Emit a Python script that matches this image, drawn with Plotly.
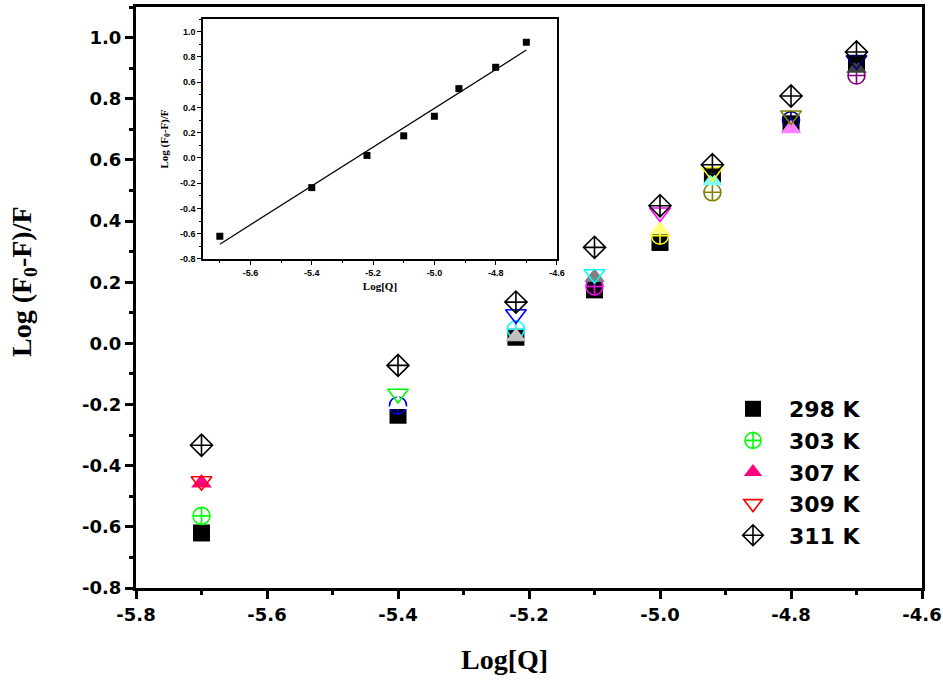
import numpy as np
import plotly.graph_objects as go

# ---- data ----
log_q = [-5.7, -5.4, -5.22, -5.1, -5.0, -4.92, -4.8, -4.7]
y_298 = [-0.62, -0.235, 0.02, 0.175, 0.33, 0.549, 0.718, 0.916]
y_303 = [-0.564, -0.203, 0.046, 0.186, 0.352, 0.494, 0.73, 0.876]
y_307 = [-0.457, -0.20, 0.022, 0.216, 0.371, 0.532, 0.702, 0.90]
y_309 = [-0.451, -0.165, 0.095, 0.226, 0.428, 0.560, 0.745, 0.926]
y_311 = [-0.333, -0.072, 0.135, 0.314, 0.450, 0.584, 0.809, 0.953]
labels = ["298 K", "303 K", "307 K", "309 K", "311 K"]

x_ticks = [-5.8, -5.6, -5.4, -5.2, -5.0, -4.8, -4.6]
x_ticks_inset = [-5.6, -5.4, -5.2, -5.0, -4.8, -4.6]
y_ticks = [-0.8, -0.6, -0.4, -0.2, 0.0, 0.2, 0.4, 0.6, 0.8, 1.0]
fmt = lambda v: f"{v:.1f}"

# Origin-style incremental colours per point
c_298 = ["#000000"] * 8
c_303 = ["#00FF00", "#0000FF", "#00FFFF", "#FF00FF", "#FFFF00", "#808000", "#000080", "#800080"]
c_307 = ["#FF0080", "#FFFFFF", "#C0C0C0", "#808080", "#FFFF80", "#80FFFF", "#FF80FF", "#404040"]
c_309 = ["#FF0000", "#00FF00", "#0000FF", "#00FFFF", "#FF00FF", "#FFFF00", "#808000", "#000080"]
c_311 = ["#000000"] * 8

fig = go.Figure()

series = [
    (y_298, c_298, "square", 17, 0),
    (y_303, c_303, "circle-cross-open", 17, 1.6),
    (y_307, c_307, "triangle-up", 18, 0),
    (y_309, c_309, "triangle-down-open", 18, 1.6),
    (y_311, c_311, "diamond-cross-open", 17, 1.6),
]
for i, (ys, cs, sym, sz, lw) in enumerate(series):
    fig.add_trace(go.Scatter(
        x=log_q, y=ys, mode="markers", name=labels[i],
        legendgroup=labels[i],
        marker=dict(symbol=sym, size=sz, color=cs, line=dict(width=lw)),
        xaxis="x", yaxis="y",
    ))

# inset: 298 K with linear fit
slope, intercept = np.polyfit(log_q, y_298, 1)
fit_x = [min(log_q), max(log_q)]
fit_y = [slope * v + intercept for v in fit_x]
fig.add_trace(go.Scatter(x=log_q, y=y_298, mode="markers", showlegend=False,
                         marker=dict(symbol="square", size=7, color="black"),
                         xaxis="x2", yaxis="y2"))
fig.add_trace(go.Scatter(x=fit_x, y=fit_y, mode="lines", showlegend=False,
                         line=dict(color="black", width=1.2),
                         xaxis="x2", yaxis="y2"))

tickfont_main = dict(family="DejaVu Sans", size=18, color="black", weight="bold")
tickfont_in = dict(family="Arial", size=9, color="black", weight="bold")
titlefont_main = dict(family="Liberation Serif", size=28, color="black", weight="bold")
titlefont_in = dict(family="Liberation Serif", size=11, color="black", weight="bold")

common_main = dict(showgrid=False, zeroline=False, automargin=False,
                   showline=True, linewidth=3, linecolor="black", mirror=True,
                   ticks="outside", ticklen=8, tickwidth=3, tickcolor="black",
                   tickfont=tickfont_main)
common_in = dict(showgrid=False, zeroline=False, automargin=False,
                 showline=True, linewidth=1.5, linecolor="black", mirror=True,
                 ticks="outside", ticklen=4, tickwidth=1.2, tickcolor="black",
                 tickfont=tickfont_in)

fig.update_layout(
    width=943, height=682,
    margin=dict(l=136, r=21, t=7, b=94, autoexpand=False),
    paper_bgcolor="white", plot_bgcolor="white",
    xaxis=dict(range=[-5.8, -4.6], tickvals=x_ticks, ticktext=[fmt(v) for v in x_ticks],
               minor=dict(dtick=0.1, tick0=-5.8, ticks="outside", ticklen=4, tickwidth=3, tickcolor="black"),
               **common_main),
    xaxis3=dict(range=[-5.8, -4.6], overlaying="x", anchor="y", side="top",
                dtick=0.1, tick0=-5.8, ticks="inside", ticklen=4, tickwidth=1.5, tickcolor="black",
                showticklabels=False, showgrid=False, zeroline=False, showline=False,
                automargin=False),
    yaxis=dict(range=[-0.8, 1.1], tickvals=y_ticks, ticktext=[fmt(v) for v in y_ticks],
               minor=dict(dtick=0.1, tick0=0, ticks="outside", ticklen=4, tickwidth=3, tickcolor="black"),
               **common_main),
    xaxis2=dict(domain=[0.0852, 0.5356], anchor="y2", range=[-5.755, -4.6],
                tickvals=x_ticks_inset, ticktext=[fmt(v) for v in x_ticks_inset],
                minor=dict(dtick=0.1, tick0=-5.6, ticks="outside", ticklen=2, tickwidth=1, tickcolor="black"),
                title=dict(text="Log[Q]", font=titlefont_in, standoff=6),
                **common_in),
    yaxis2=dict(domain=[0.5663, 0.9793], anchor="x2", range=[-0.8, 1.1],
                tickvals=y_ticks, ticktext=[fmt(v) for v in y_ticks],
                minor=dict(dtick=0.1, tick0=0, ticks="outside", ticklen=2, tickwidth=1, tickcolor="black"),
                title=dict(text="Log (F<sub>0</sub>-F)/F", font=titlefont_in, standoff=9),
                **common_in),
    legend=dict(x=(717 - 136) / 786, y=(588 - 388) / 581, xanchor="left", yanchor="top",
                font=dict(family="DejaVu Sans", size=22, color="black", weight="bold"),
                bgcolor="rgba(0,0,0,0)", tracegroupgap=0, itemsizing="trace", itemwidth=62),
    annotations=[
        dict(text="Log[Q]", xref="paper", yref="paper",
             x=(504 - 136) / 786, y=(588 - 660) / 581, xanchor="center", yanchor="middle",
             showarrow=False, font=titlefont_main),
        dict(text="Log (F<sub>0</sub>-F)/F", xref="paper", yref="paper", textangle=-90,
             x=(23 - 136) / 786, y=(588 - 282) / 581, xanchor="center", yanchor="middle",
             showarrow=False, font=titlefont_main),
    ],
)

fig.write_html("out.html")
